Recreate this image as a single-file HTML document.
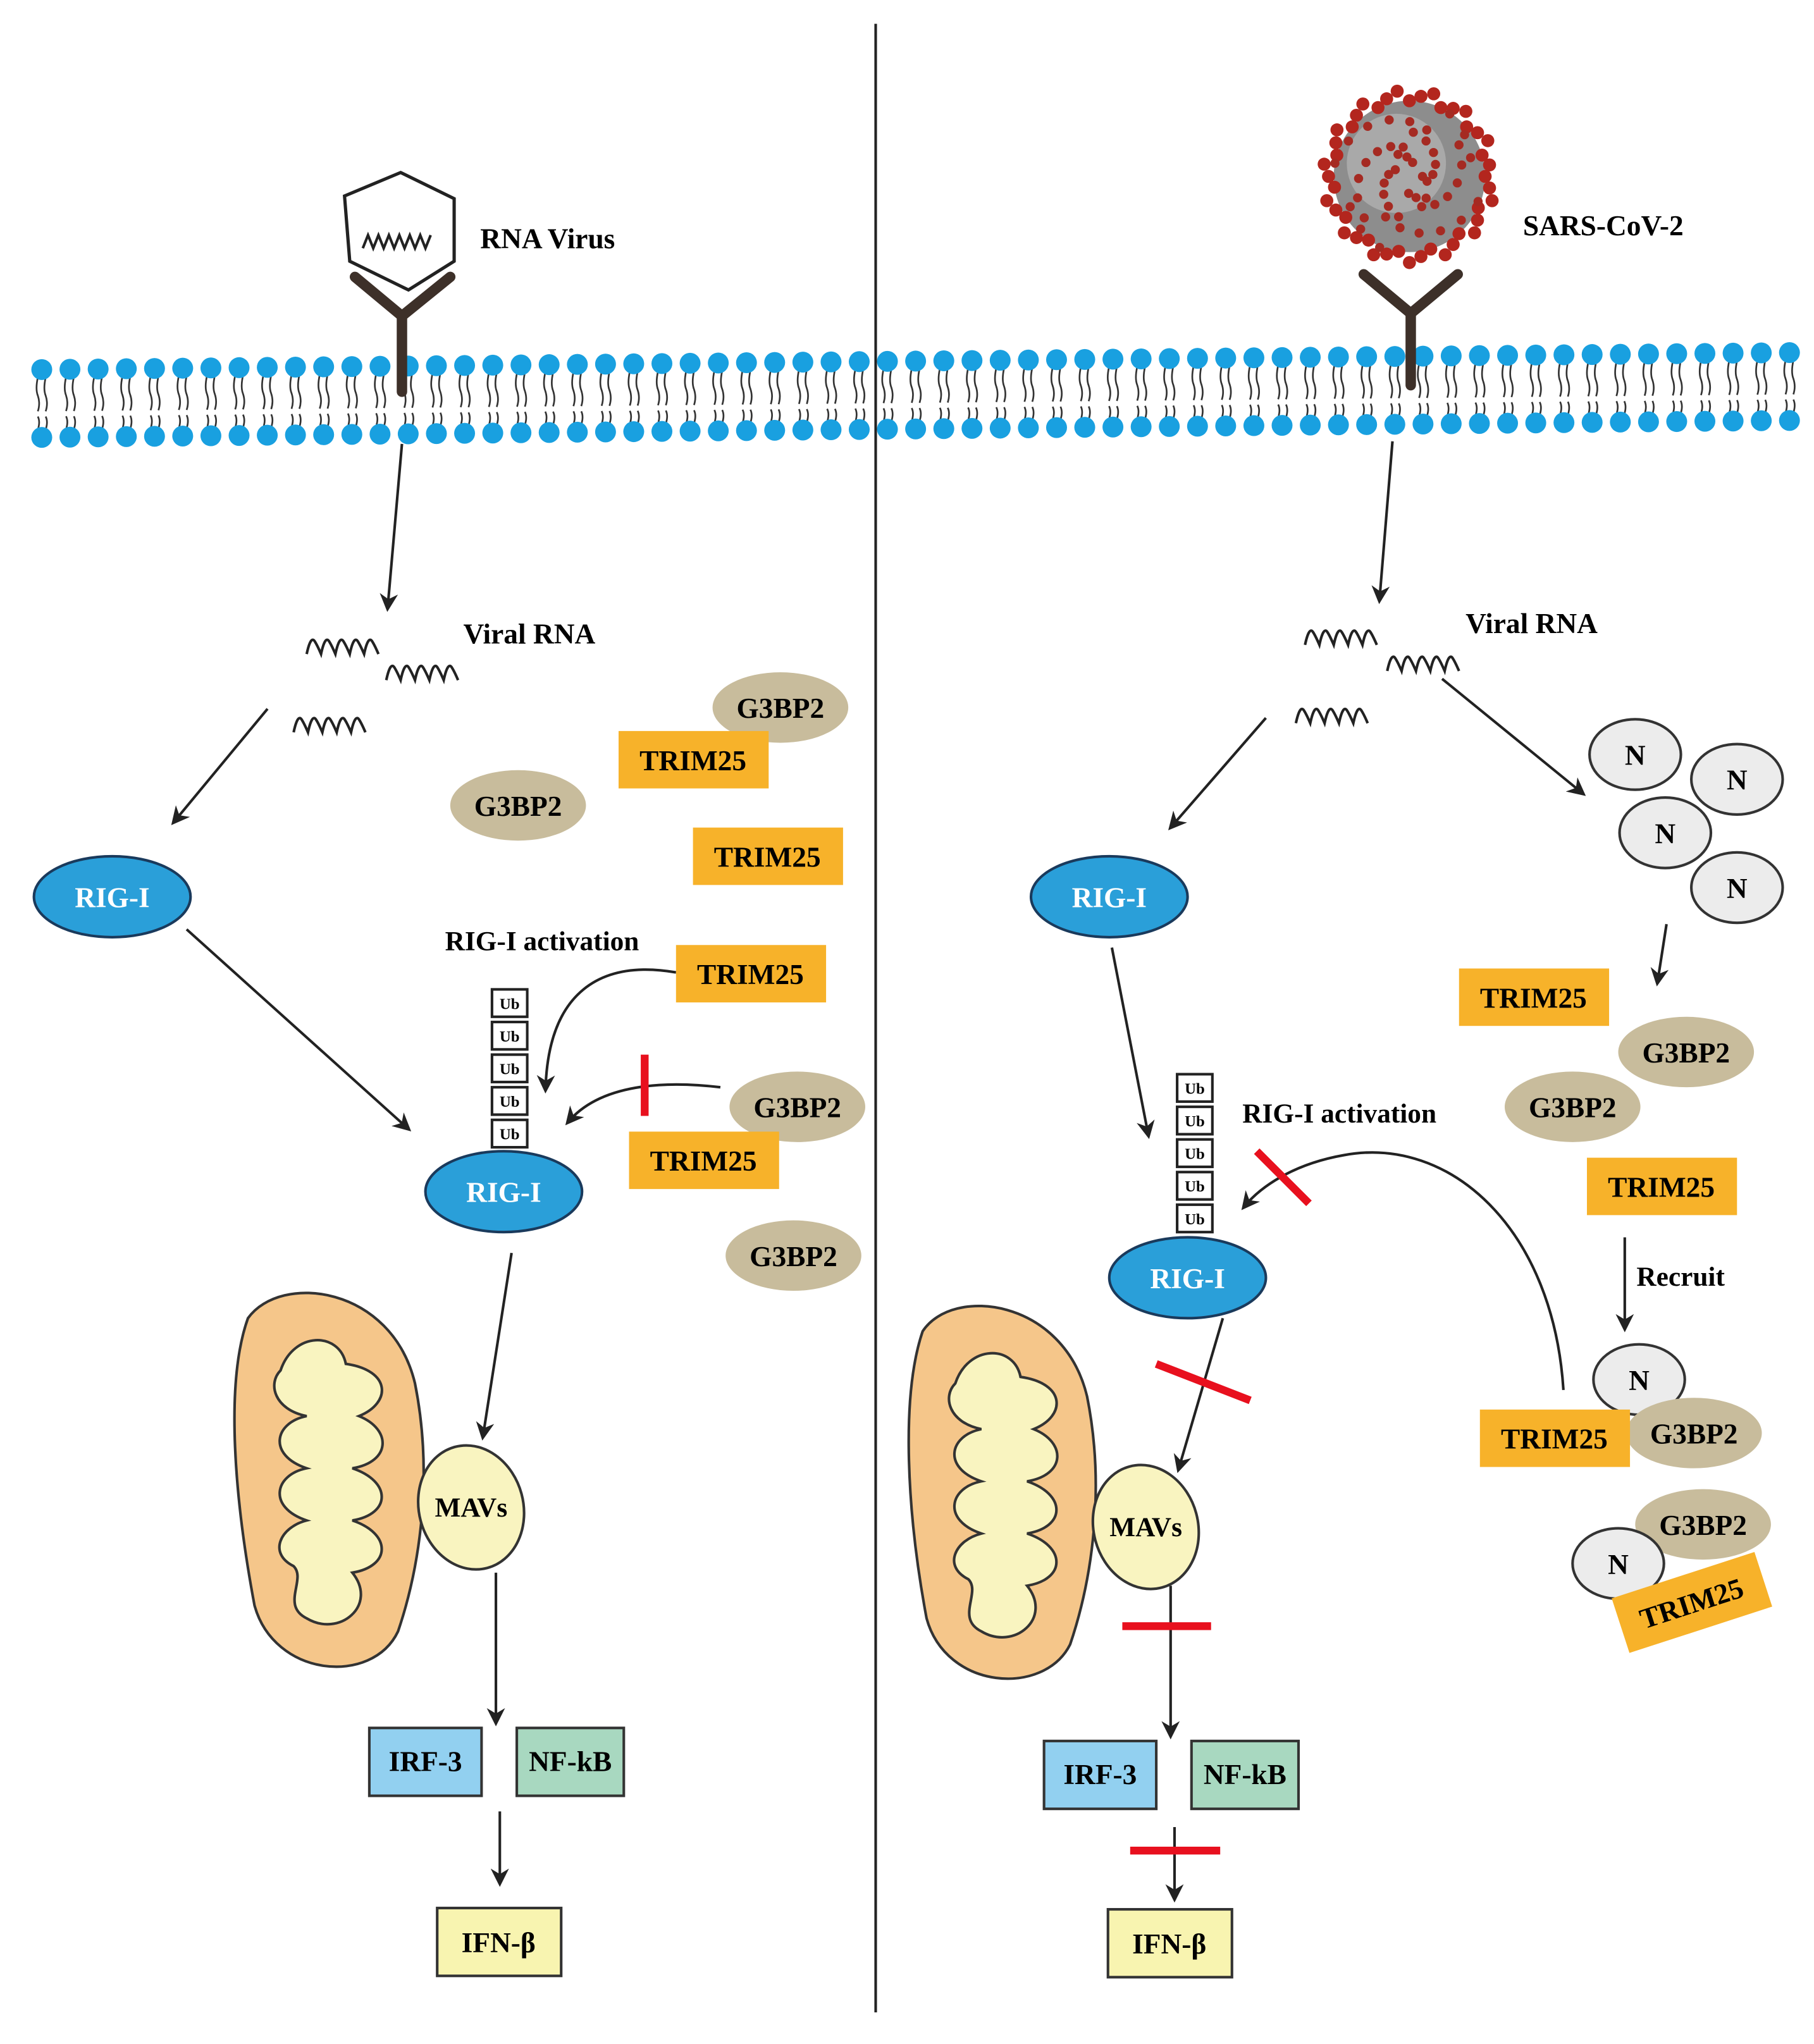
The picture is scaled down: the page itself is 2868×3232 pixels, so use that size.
<!DOCTYPE html>
<html><head><meta charset="utf-8">
<style>
html,body{margin:0;padding:0;background:#fff;}
svg{display:block;}
text{font-family:"Liberation Serif",serif;font-weight:bold;}
</style></head>
<body>
<svg id="s" width="2868" height="3232" viewBox="0 0 1390 1566" xmlns="http://www.w3.org/2000/svg">
<defs>
<marker id="ar" viewBox="0 0 10 10" refX="8" refY="5" markerWidth="7" markerHeight="7" orient="auto">
<path d="M0,0 L10,5 L0,10 L3,5 Z" fill="#222"/></marker>
</defs>
<rect width="1390" height="1566" fill="#fff"/>
<line x1="671" y1="18" x2="671" y2="1542" stroke="#222" stroke-width="2"/>
<g id="mem"></g>

<polygon points="307,132 348,152 348,200 313,222 268,200 264,150" fill="#fff" stroke="#222" stroke-width="2.5"/>
<path d="M278,190 l4,-10 l4,10 l4,-10 l4,10 l4,-10 l4,10 l4,-10 l4,10 l4,-10 l4,10 l4,-10 l4,10 l4,-10" fill="none" stroke="#222" stroke-width="2"/>
<text x="368" y="190" font-size="22">RNA Virus</text>
<g stroke="#3d3029" stroke-width="8" fill="none" stroke-linecap="round">
<path d="M272,212 L308,242 L345,212"/><line x1="308" y1="242" x2="308" y2="300"/></g>
<line x1="308" y1="340" x2="297" y2="466" stroke="#222" stroke-width="2" marker-end="url(#ar)"/>
<g class="sq" data-p="235,497;296,517;225,557"></g>
<text x="355" y="493" font-size="22">Viral RNA</text>
<line x1="205" y1="543" x2="133" y2="630" stroke="#222" stroke-width="2" marker-end="url(#ar)"/>
<ellipse cx="86" cy="687" rx="60" ry="31" fill="#2a9fd9" stroke="#1a3a5c" stroke-width="2"/>
<text x="86" y="695" font-size="22" fill="#fff" text-anchor="middle">RIG-I</text>
<line x1="143" y1="712" x2="313" y2="865" stroke="#222" stroke-width="2" marker-end="url(#ar)"/>
<ellipse cx="386" cy="913" rx="60" ry="31" fill="#2a9fd9" stroke="#1a3a5c" stroke-width="2"/>
<text x="386" y="921" font-size="22" fill="#fff" text-anchor="middle">RIG-I</text>
<g class="ub" data-p="377,758"></g>
<text x="341" y="728" font-size="21">RIG-I activation</text>
<path d="M518,745 C460,735 420,760 418,835" fill="none" stroke="#222" stroke-width="2" marker-end="url(#ar)"/>
<path d="M552,833 C510,828 460,830 435,860" fill="none" stroke="#222" stroke-width="2" marker-end="url(#ar)"/>
<line x1="494" y1="808" x2="494" y2="855" stroke="#e8101e" stroke-width="6"/>

<g id="L"></g>

<path d="M190,1010 C215,975 300,985 318,1060 C332,1130 322,1200 305,1250 C285,1292 210,1285 195,1230 C180,1150 172,1060 190,1010 Z" fill="#f5c68a" stroke="#333" stroke-width="2"/>
<path d="M215,1050 C225,1020 260,1020 265,1045 C300,1050 300,1075 275,1085 C300,1095 300,1120 270,1125 C300,1135 300,1160 270,1165 C300,1175 300,1200 270,1205 C290,1230 260,1255 235,1240 C215,1230 235,1210 225,1200 C205,1190 215,1170 235,1165 C205,1155 210,1130 235,1125 C205,1115 210,1090 235,1085 C210,1080 205,1060 215,1050 Z" fill="#f9f4c0" stroke="#333" stroke-width="2"/>
<ellipse cx="361" cy="1155" rx="40" ry="48" transform="rotate(-15 361 1155)" fill="#f9f4c0" stroke="#333" stroke-width="2"/>
<text x="361" y="1162" font-size="21" text-anchor="middle">MAVs</text>
<line x1="392" y1="960" x2="370" y2="1101" stroke="#222" stroke-width="2" marker-end="url(#ar)"/>
<line x1="380" y1="1205" x2="380" y2="1320" stroke="#222" stroke-width="2" marker-end="url(#ar)"/>
<rect x="283" y="1324" width="86" height="52" fill="#92d0f0" stroke="#333" stroke-width="2"/>
<text x="326" y="1357" font-size="22" text-anchor="middle">IRF-3</text>
<rect x="396" y="1324" width="82" height="52" fill="#a8d8c0" stroke="#333" stroke-width="2"/>
<text x="437" y="1357" font-size="22" text-anchor="middle">NF-kB</text>
<line x1="383" y1="1388" x2="383" y2="1443" stroke="#222" stroke-width="2" marker-end="url(#ar)"/>
<rect x="335" y="1462" width="95" height="52" fill="#f8f4b0" stroke="#333" stroke-width="2"/>
<text x="382" y="1496" font-size="22" text-anchor="middle">IFN-β</text>

<g id="virus"></g>
<text x="1167" y="180" font-size="22">SARS-CoV-2</text>
<g stroke="#3d3029" stroke-width="8" fill="none" stroke-linecap="round">
<path d="M1045,210 L1081,240 L1117,210"/><line x1="1081" y1="240" x2="1081" y2="295"/></g>
<line x1="1067" y1="338" x2="1057" y2="460" stroke="#222" stroke-width="2" marker-end="url(#ar)"/>
<g class="sq" data-p="1000,490;1063,510;993,550"></g>
<text x="1123" y="485" font-size="22">Viral RNA</text>
<line x1="970" y1="550" x2="897" y2="634" stroke="#222" stroke-width="2" marker-end="url(#ar)"/>
<line x1="1105" y1="520" x2="1213" y2="608" stroke="#222" stroke-width="2" marker-end="url(#ar)"/>
<ellipse cx="850" cy="687" rx="60" ry="31" fill="#2a9fd9" stroke="#1a3a5c" stroke-width="2"/>
<text x="850" y="695" font-size="22" fill="#fff" text-anchor="middle">RIG-I</text>
<line x1="852" y1="726" x2="880" y2="870" stroke="#222" stroke-width="2" marker-end="url(#ar)"/>
<ellipse cx="910" cy="979" rx="60" ry="31" fill="#2a9fd9" stroke="#1a3a5c" stroke-width="2"/>
<text x="910" y="987" font-size="22" fill="#fff" text-anchor="middle">RIG-I</text>
<g class="ub" data-p="902,823"></g>
<text x="952" y="860" font-size="21">RIG-I activation</text>
<path d="M1198,1065 C1190,940 1110,870 1030,885 C990,892 965,910 953,925" fill="none" stroke="#222" stroke-width="2" marker-end="url(#ar)"/>
<line x1="963" y1="882" x2="1003" y2="922" stroke="#e8101e" stroke-width="6"/>
<line x1="937" y1="1010" x2="903" y2="1126" stroke="#222" stroke-width="2" marker-end="url(#ar)"/>
<line x1="886" y1="1045" x2="958" y2="1073" stroke="#e8101e" stroke-width="6"/>
<path d="M707,1020 C730,985 815,995 833,1070 C847,1140 837,1210 820,1260 C800,1300 725,1295 710,1240 C695,1160 690,1070 707,1020 Z" fill="#f5c68a" stroke="#333" stroke-width="2"/>
<path d="M732,1060 C742,1030 777,1030 782,1055 C817,1060 817,1085 792,1095 C817,1105 817,1130 787,1135 C817,1145 817,1170 787,1175 C817,1185 817,1210 787,1215 C807,1240 777,1265 752,1250 C732,1240 752,1220 742,1210 C722,1200 732,1180 752,1175 C722,1165 727,1140 752,1135 C722,1125 727,1100 752,1095 C727,1090 722,1070 732,1060 Z" fill="#f9f4c0" stroke="#333" stroke-width="2"/>
<ellipse cx="878" cy="1170" rx="40" ry="48" transform="rotate(-15 878 1170)" fill="#f9f4c0" stroke="#333" stroke-width="2"/>
<text x="878" y="1177" font-size="21" text-anchor="middle">MAVs</text>
<line x1="897" y1="1215" x2="897" y2="1330" stroke="#222" stroke-width="2" marker-end="url(#ar)"/>
<line x1="860" y1="1246" x2="928" y2="1246" stroke="#e8101e" stroke-width="6"/>
<rect x="800" y="1334" width="86" height="52" fill="#92d0f0" stroke="#333" stroke-width="2"/>
<text x="843" y="1367" font-size="22" text-anchor="middle">IRF-3</text>
<rect x="913" y="1334" width="82" height="52" fill="#a8d8c0" stroke="#333" stroke-width="2"/>
<text x="954" y="1367" font-size="22" text-anchor="middle">NF-kB</text>
<line x1="900" y1="1400" x2="900" y2="1455" stroke="#222" stroke-width="2" marker-end="url(#ar)"/>
<line x1="866" y1="1418" x2="935" y2="1418" stroke="#e8101e" stroke-width="6"/>
<rect x="849" y="1463" width="95" height="52" fill="#f8f4b0" stroke="#333" stroke-width="2"/>
<text x="896" y="1497" font-size="22" text-anchor="middle">IFN-β</text>
<line x1="1277" y1="708" x2="1270" y2="753" stroke="#222" stroke-width="2" marker-end="url(#ar)"/>
<line x1="1245" y1="948" x2="1245" y2="1018" stroke="#222" stroke-width="2" marker-end="url(#ar)"/>
<text x="1254" y="985" font-size="21">Recruit</text>
<g id="R"></g>
</svg>
<script>
var NS="http://www.w3.org/2000/svg";
function el(p,t,a,txt){var e=document.createElementNS(NS,t);for(var k in a)e.setAttribute(k,a[k]);if(txt)e.textContent=txt;p.appendChild(e);return e;}
var m=document.getElementById("mem");
for(var x=32;x<1372;x+=21.6){var dy=(x-32)/1340*-13;var t=283+dy,b=335+dy;
el(m,"path",{d:"M"+(x-3)+","+(t+6)+" q-2,9 0,14 q2,6 0,12 M"+(x+3)+","+(t+6)+" q-2,9 0,14 q2,6 0,12 M"+(x-3)+","+(b-6)+" q2,-6 0,-10 M"+(x+3)+","+(b-6)+" q2,-6 0,-10",fill:"none",stroke:"#333","stroke-width":1.3});
el(m,"circle",{cx:x,cy:t,r:8,fill:"#19a0e0"});el(m,"circle",{cx:x,cy:b,r:8,fill:"#19a0e0"});}
document.querySelectorAll(".sq").forEach(function(g){g.getAttribute("data-p").split(";").forEach(function(p){var q=p.split(",").map(Number);var d="M"+q[0]+","+(q[1]+4);for(var i=0;i<5;i++)d+=" q3,-14 6,-10 q2,3 5,10";el(g,"path",{d:d,fill:"none",stroke:"#222","stroke-width":2});});});
document.querySelectorAll(".ub").forEach(function(g){var q=g.getAttribute("data-p").split(",").map(Number);for(var i=0;i<5;i++){el(g,"rect",{x:q[0],y:q[1]+i*25,width:27,height:21,fill:"#fff",stroke:"#222","stroke-width":2});el(g,"text",{x:q[0]+13.5,y:q[1]+i*25+15,"font-size":12,"text-anchor":"middle"},"Ub");}});
function trim(p,x,y,rot){var g=el(p,"g",rot?{transform:"rotate("+rot+" "+(x+57)+" "+(y+22)+")"}:{});el(g,"rect",{x:x,y:y,width:115,height:44,fill:"#f7b22a"});el(g,"text",{x:x+57,y:y+30,"font-size":22,"text-anchor":"middle"},"TRIM25");}
function g3(p,x,y){el(p,"ellipse",{cx:x,cy:y,rx:52,ry:27,fill:"#c8bc9c"});el(p,"text",{x:x,y:y+8,"font-size":22,"text-anchor":"middle"},"G3BP2");}
function n(p,x,y){el(p,"ellipse",{cx:x,cy:y,rx:35,ry:27,fill:"#ececec",stroke:"#333","stroke-width":2});el(p,"text",{x:x,y:y+8,"font-size":22,"text-anchor":"middle"},"N");}
var L=document.getElementById("L");
g3(L,598,542);trim(L,474,560);g3(L,397,617);trim(L,531,634);trim(L,518,724);g3(L,611,848);trim(L,482,867);g3(L,608,962);
var R=document.getElementById("R");
n(R,1253,578);n(R,1331,597);n(R,1276,638);n(R,1331,680);
trim(R,1118,742);g3(R,1292,806);g3(R,1205,848);trim(R,1216,887);
n(R,1256,1057);g3(R,1298,1098);trim(R,1134,1080);
g3(R,1305,1168);n(R,1240,1198);trim(R,1239,1206,-18);
var v=document.getElementById("virus");
el(v,"circle",{cx:1080,cy:135,r:58,fill:"#8d8d8d"});
el(v,"circle",{cx:1070,cy:125,r:38,fill:"#a9a9a9"});
for(var i=0;i<44;i++){var a=i*2*Math.PI/44,rr=58+(i%3)*4;el(v,"circle",{cx:1080+rr*Math.cos(a),cy:135+rr*Math.sin(a),r:5,fill:"#b3261e"});}
for(var i=0;i<50;i++){var a=i*2.4,rr=10+(i*37%50);el(v,"circle",{cx:1080+rr*Math.cos(a),cy:135+rr*Math.sin(a),r:3.5,fill:"#a52a22"});}
</script>
</body></html>
